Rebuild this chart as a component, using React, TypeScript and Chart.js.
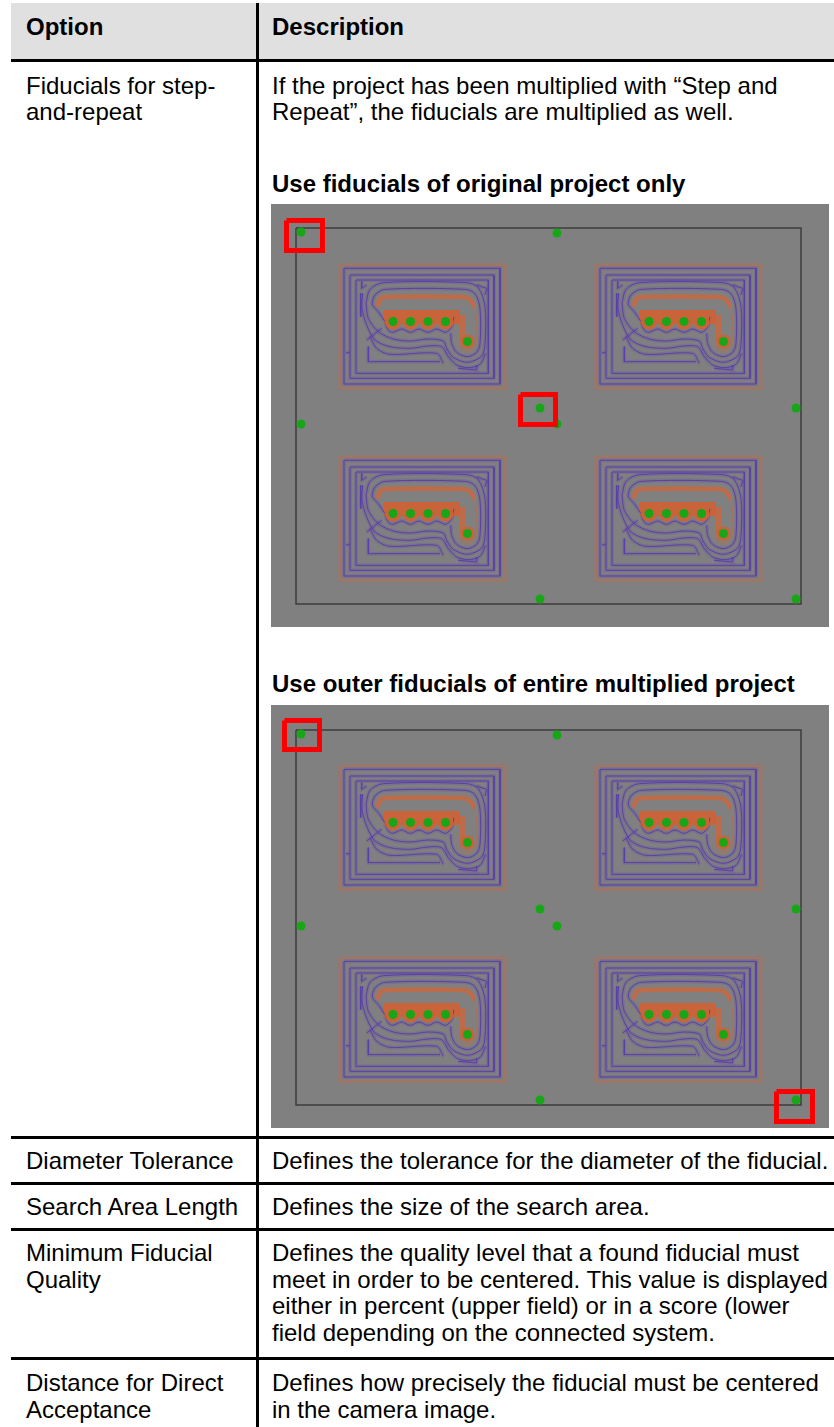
import React, { useEffect, useRef } from "react";
import { Chart, registerables } from "chart.js";

Chart.register(...registerables);

type P = [number, number];

const IMG_W = 558;
const IMG_H = 423;

const optionLines: [string, number][] = [
  ["Fiducials for step-", 86],
  ["and-repeat", 112],
  ["Diameter Tolerance", 1161],
  ["Search Area Length", 1207],
  ["Minimum Fiducial", 1253],
  ["Quality", 1280],
  ["Distance for Direct", 1383],
  ["Acceptance", 1410],
];
const descriptionLines: [string, number][] = [
  ["If the project has been multiplied with “Step and", 86],
  ["Repeat”, the fiducials are multiplied as well.", 112],
  ["Defines the tolerance for the diameter of the fiducial.", 1161],
  ["Defines the size of the search area.", 1207],
  ["Defines the quality level that a found fiducial must", 1253],
  ["meet in order to be centered. This value is displayed", 1280],
  ["either in percent (upper field) or in a score (lower", 1306],
  ["field depending on the connected system.", 1333],
  ["Defines how precisely the fiducial must be centered", 1383],
  ["in the camera image.", 1410],
];
const subHeads: [string, number][] = [
  ["Use fiducials of original project only", 184],
  ["Use outer fiducials of entire multiplied project", 684],
];

const frameA: P[] = [[25, 24], [530, 24], [530, 400], [25, 400], [25, 24]];
const frameB: P[] = [[25, 25], [530, 25], [530, 400], [25, 400], [25, 25]];

const outerFiducialsA: P[] = [[30, 28], [286, 29], [30, 220], [286, 220], [525, 204], [269, 395], [525, 395], [269, 204]];
const outerFiducialsB: P[] = [[30, 29], [286, 30], [30, 221], [286, 221], [525, 204], [269, 204], [269, 395], [525, 395]];

const redBoxesA: P[][] = [
  [[15.5, 16.5], [51.5, 16.5], [51.5, 46.5], [15.5, 46.5], [15.5, 16.5]],
  [[249.5, 190.5], [284.5, 190.5], [284.5, 220.5], [249.5, 220.5], [249.5, 190.5]],
];
const redBoxesB: P[][] = [
  [[13.5, 15.5], [48.5, 15.5], [48.5, 44.5], [13.5, 44.5], [13.5, 15.5]],
  [[505.5, 386.5], [541.5, 386.5], [541.5, 416.5], [505.5, 416.5], [505.5, 386.5]],
];

const coilOrigins: P[] = [[69, 61], [325, 61], [69, 253], [325, 253]];
const padOffsets: P[] = [[53, 56.5], [70.5, 56.5], [88, 56.5], [105.5, 56.5], [127.5, 76.5]];

const orangeBorder: P[] = [[0, 0], [495, 0], [495, 370], [0, 370], [0, 0]];
const rect1: P[] = [[12, 10], [480, 10], [480, 357], [12, 357], [12, 10]];
const rect2: P[] = [[30, 30], [462, 30], [462, 340], [30, 340], [30, 30]];
const rect3: P[] = [[48, 45], [445, 45], [445, 325], [48, 325], [48, 45]];
const orangeBandTop: P[] = [[113, 125], [120, 103], [140, 96], [365, 96], [390, 104], [403, 125]];
const orangeBandRight: P[] = [[403, 125], [410, 160], [410, 225], [400, 250], [383, 260], [365, 250], [358, 230]];
const orangeStem: P[] = [[366, 150], [366, 235]];
const orangeBlock: P[] = [[130, 156], [360, 156]];
const contour1: P[] = [[135, 170], [115, 140], [97, 118], [105, 90], [135, 73], [375, 73], [405, 86], [420, 130], [420, 235], [410, 262], [383, 275], [350, 262], [335, 235], [332, 205]];
const contour1b: P[] = [[135, 172], [145, 195], [158, 202], [185, 192], [211, 202], [237, 192], [264, 202], [290, 192], [317, 202], [335, 185], [342, 155]];
const contour2: P[] = [[78, 115], [90, 73], [130, 53], [380, 53], [415, 68], [435, 125], [435, 235], [425, 273], [383, 292], [340, 277], [320, 250], [310, 228], [264, 222], [211, 228], [160, 222], [115, 200], [85, 160], [78, 115]];
const contour3: P[] = [[68, 85], [66, 130], [80, 180], [105, 225], [150, 245], [211, 250], [264, 243], [305, 245], [325, 275], [350, 300], [385, 308], [420, 298], [437, 265]];
const contour4: P[] = [[90, 215], [110, 250], [150, 268], [290, 265], [310, 295]];
const fragLeft: P[] = [[62, 85], [62, 155]];
const fragLower: P[] = [[85, 245], [85, 290], [300, 290]];
const fragDiag: P[] = [[80, 225], [125, 190]];
const fragTick: P[] = [[18, 263], [30, 263]];
const fragTopLeft: P[] = [[65, 50], [65, 70], [80, 60]];
const fragTopRight: P[] = [[410, 60], [440, 70], [435, 90]];
const fragBottomRight: P[] = [[355, 310], [410, 315], [410, 300]];

const straightPaths = [rect1, rect2, rect3, fragLeft, fragLower, fragDiag, fragTick, fragTopLeft, fragTopRight, fragBottomRight];
const curvedPaths = [contour1, contour1b, contour2, contour3, contour4];

const toLocal = (path: P[], o: P) => path.map(([x, y]) => ({ x: o[0] + x / 3, y: o[1] + y / 3 }));
const toPts = (path: P[]) => path.map(([x, y]) => ({ x, y }));

const line = (data: { x: number; y: number }[], color: string, width: number, tension = 0) => ({
  data,
  borderColor: color,
  backgroundColor: color,
  borderWidth: width,
  showLine: true,
  pointRadius: 0,
  tension,
});

function buildDatasets(frame: P[], fiducials: P[], boxes: P[][]) {
  const sets: any[] = [];
  const pads: P[] = [];
  for (const o of coilOrigins) {
    sets.push(line(toLocal(orangeBorder, o), "rgba(178,112,84,0.6)", 3));
    for (const p of straightPaths) sets.push(line(toLocal(p, o), "rgba(98,72,170,0.25)", 4));
    for (const p of curvedPaths) sets.push(line(toLocal(p, o), "rgba(98,72,170,0.25)", 4, 0.3));
    sets.push(line(toLocal(orangeBandTop, o), "#bd6b48", 4.5, 0.3));
    sets.push(line(toLocal(orangeBandRight, o), "rgba(189,107,72,0.6)", 1.5, 0.3));
    sets.push(line(toLocal(orangeStem, o), "#bd6b48", 6));
    sets.push(line(toLocal(orangeBlock, o), "#c9643a", 14));
    for (const p of straightPaths) sets.push(line(toLocal(p, o), "#5a3fa8", 1));
    for (const p of curvedPaths) sets.push(line(toLocal(p, o), "#5a3fa8", 1, 0.3));
    for (const [dx, dy] of padOffsets) pads.push([o[0] + dx, o[1] + dy]);
  }
  sets.push({
    data: toPts(pads.slice()),
    pointRadius: pads.map((_, i) => (i % 5 === 4 ? 7 : 8)),
    pointBackgroundColor: "#c9643a",
    pointBorderWidth: 0,
    showLine: false,
  });
  sets.push(line(toPts(frame), "#3c3c3c", 1.5));
  sets.push({
    data: toPts([...pads, ...fiducials]),
    pointRadius: 4.5,
    pointBackgroundColor: "#16a616",
    pointBorderWidth: 0,
    showLine: false,
  });
  for (const b of boxes) sets.push(line(toPts(b), "#fb0000", 5));
  return sets.reverse();
}

function Board({ top, frame, fiducials, boxes }: { top: number; frame: P[]; fiducials: P[]; boxes: P[][] }) {
  const ref = useRef<HTMLCanvasElement>(null);
  useEffect(() => {
    const chart = new Chart(ref.current!, {
      type: "scatter",
      data: { datasets: buildDatasets(frame, fiducials, boxes) },
      options: {
        animation: false,
        responsive: false,
        devicePixelRatio: 1,
        layout: { padding: 0, autoPadding: false },
        plugins: { legend: { display: false }, tooltip: { enabled: false } },
        elements: { line: { capBezierPoints: true, borderJoinStyle: "miter" } },
        scales: {
          x: { type: "linear", min: 0, max: IMG_W, display: false },
          y: { type: "linear", min: 0, max: IMG_H, reverse: true, display: false },
        },
      },
    } as any);
    return () => chart.destroy();
  }, []);
  return (
    <canvas
      ref={ref}
      width={IMG_W}
      height={IMG_H}
      style={{ position: "absolute", left: 271, top, width: IMG_W, height: IMG_H, background: "#808080", filter: "blur(0.5px)" }}
    />
  );
}

const FONT_SIZE = 24;

function Txt({ t, x, cy, bold }: { t: string; x: number; cy: number; bold?: boolean }) {
  return (
    <div style={{ position: "absolute", left: x, top: cy - 14, height: 28, lineHeight: "28px", whiteSpace: "nowrap", fontWeight: bold ? 700 : 400, color: "#000", fontFamily: '"Liberation Sans", Arial, sans-serif', fontSize: FONT_SIZE }}>
      {t}
    </div>
  );
}

function Rule({ y }: { y: number }) {
  return <div style={{ position: "absolute", left: 11, top: y, width: 823, height: 3, background: "#000" }} />;
}

export default function App() {
  return (
    <div style={{ position: "absolute", left: 0, top: 0, width: 834, height: 1427, overflow: "hidden", background: "#fff" }}>
      <div style={{ position: "absolute", left: 11, top: 3, width: 823, height: 56, background: "#e0e0e0" }} />
      <Rule y={59} />
      <Rule y={1136} />
      <Rule y={1182} />
      <Rule y={1228} />
      <Rule y={1357} />
      <div style={{ position: "absolute", left: 256, top: 3, width: 3, height: 1424, background: "#000" }} />
      <Txt t="Option" x={26} cy={27} bold />
      <Txt t="Description" x={272} cy={27} bold />
      {optionLines.map(([t, y]) => <Txt key={t} t={t} x={26} cy={y} />)}
      {descriptionLines.map(([t, y]) => <Txt key={t} t={t} x={272} cy={y} />)}
      {subHeads.map(([t, y]) => <Txt key={t} t={t} x={272} cy={y} bold />)}
      <Board top={204} frame={frameA} fiducials={outerFiducialsA} boxes={redBoxesA} />
      <Board top={705} frame={frameB} fiducials={outerFiducialsB} boxes={redBoxesB} />
    </div>
  );
}
